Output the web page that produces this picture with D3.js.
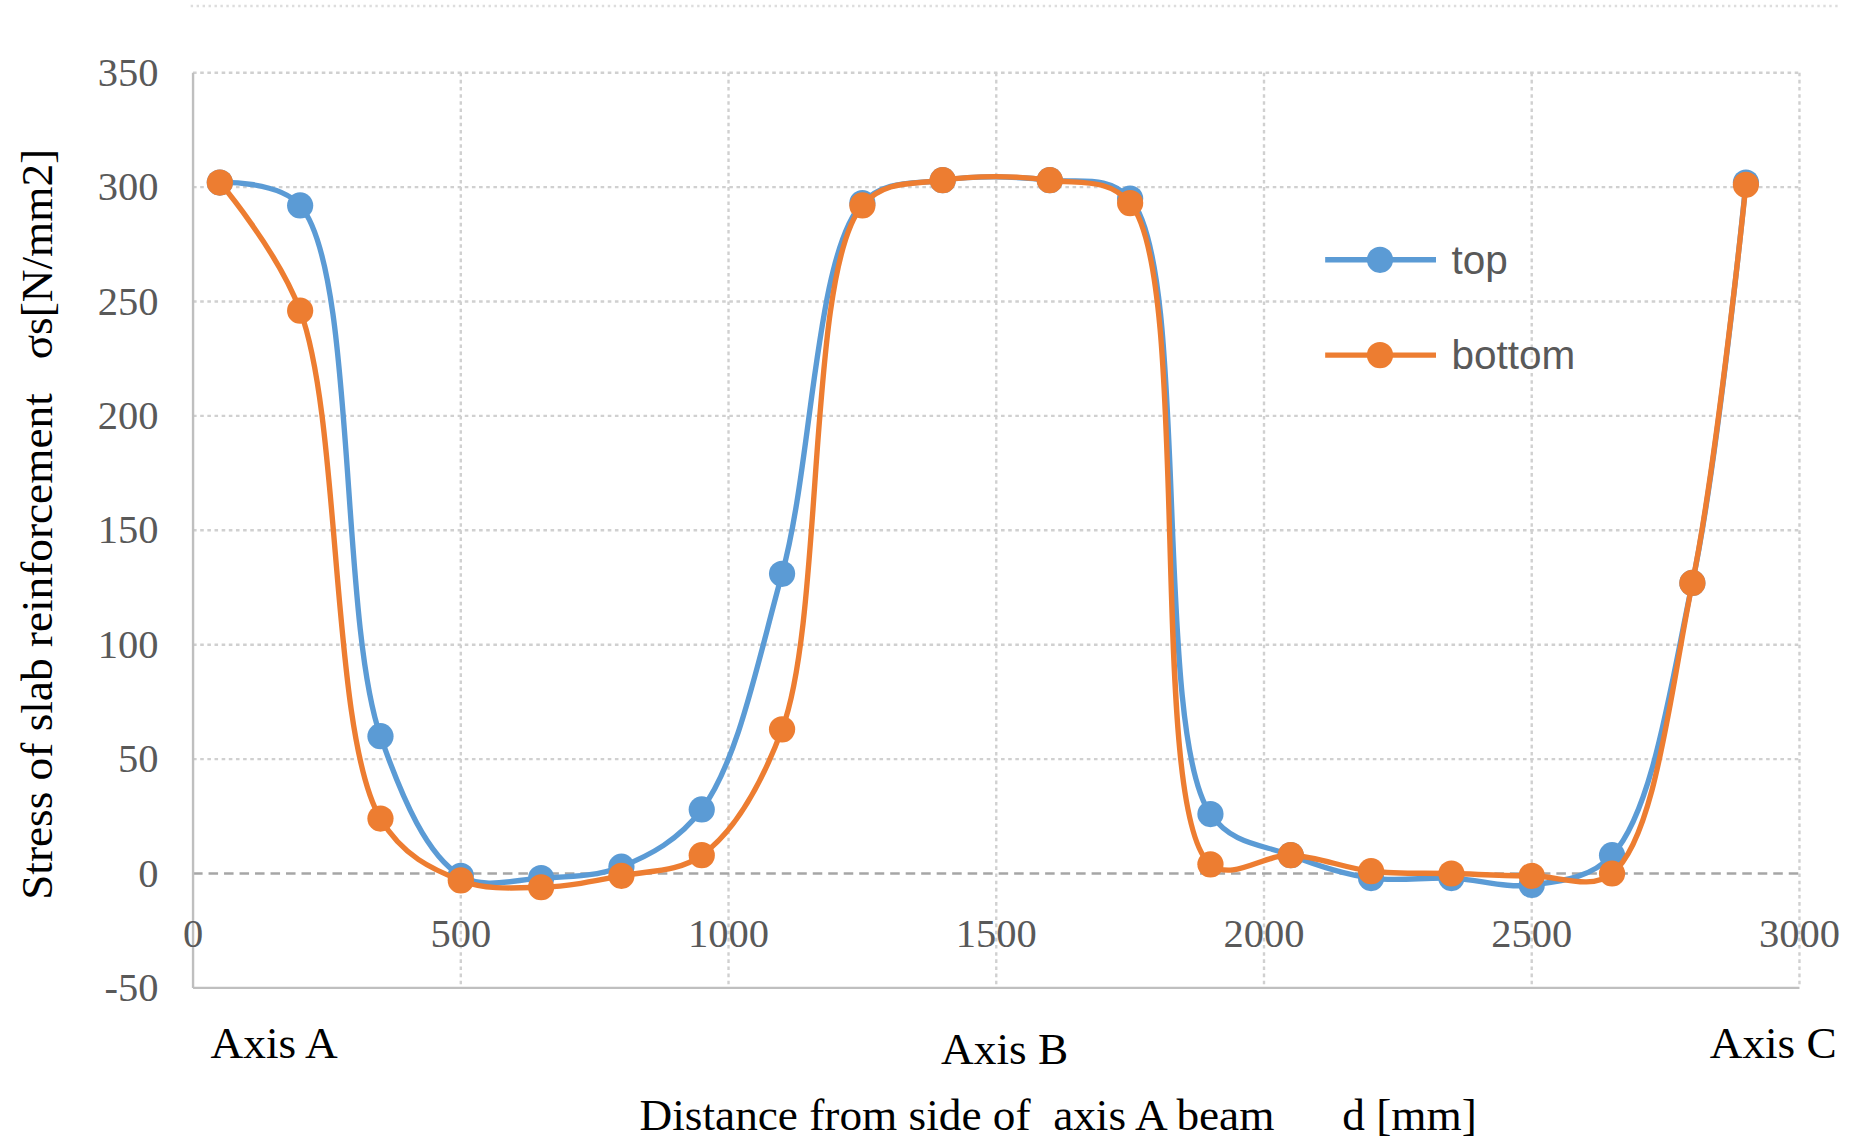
<!DOCTYPE html>
<html><head><meta charset="utf-8">
<script src="https://cdn.jsdelivr.net/npm/d3@7"></script>
<style>body{margin:0;background:#fff}</style>
</head><body><div id="chart"></div>
<script>
const xVals = [50, 200, 350, 500, 650, 800, 950, 1100, 1250, 1400, 1600, 1750, 1900, 2050, 2200, 2350, 2500, 2650, 2800, 2900];
const topVals = [302, 292, 60, -1, -2, 3, 28, 131, 293, 303, 303, 295, 26, 8, -2, -2, -5, 8, 127, 302];
const bottomVals = [302, 246, 24, -3, -6, -1, 8, 63, 292, 303, 303, 293, 4, 8, 1, 0, -1, 0, 127, 301];
const xTicks = [0, 500, 1000, 1500, 2000, 2500, 3000];
const yTicks = [-50, 0, 50, 100, 150, 200, 250, 300, 350];
const series = [
  { name: "top", values: topVals, color: "#5B9BD5" },
  { name: "bottom", values: bottomVals, color: "#ED7D31" }
];

const W = 1859, H = 1147;
const svgRoot = d3.select("#chart").append("svg").attr("width", W).attr("height", H);
const svg = svgRoot.append("g").attr("transform", "scale(1.1917)");
const x = d3.scaleLinear().domain([0, 3000]).range([162, 1510]);
const y = d3.scaleLinear().domain([-50, 350]).range([829, 61]);

// top frame
svg.append("line").attr("x1", 160).attr("x2", 1545).attr("y1", 5).attr("y2", 5)
  .attr("stroke", "#ddd").attr("stroke-width", 2).attr("stroke-dasharray", "2,3");

// grid
svg.append("g").selectAll("line").data(yTicks.filter(d => d !== 0 && d !== -50)).join("line")
  .attr("x1", x(0)).attr("x2", x(3000)).attr("y1", d => y(d)).attr("y2", d => y(d))
  .attr("stroke", "#d0d0d0").attr("stroke-width", 2).attr("stroke-dasharray", "3,3");
svg.append("g").selectAll("line").data(xTicks.slice(1)).join("line")
  .attr("x1", d => x(d)).attr("x2", d => x(d)).attr("y1", y(350)).attr("y2", y(-50))
  .attr("stroke", "#d0d0d0").attr("stroke-width", 2).attr("stroke-dasharray", "3,3");
svg.append("line").attr("x1", x(0)).attr("x2", x(3000)).attr("y1", y(0)).attr("y2", y(0))
  .attr("stroke", "#a6a6a6").attr("stroke-width", 2).attr("stroke-dasharray", "8,5");
svg.append("line").attr("x1", x(0)).attr("x2", x(3000)).attr("y1", y(-50)).attr("y2", y(-50))
  .attr("stroke", "#bfbfbf").attr("stroke-width", 2);
svg.append("line").attr("x1", x(0)).attr("x2", x(0)).attr("y1", y(350)).attr("y2", y(-50))
  .attr("stroke", "#bfbfbf").attr("stroke-width", 2);

// tick labels
const tickFont = "Liberation Serif, Times New Roman, serif";
svg.append("g").selectAll("text").data(yTicks).join("text")
  .attr("x", 133).attr("y", d => y(d) + 11).attr("text-anchor", "end")
  .attr("font-family", tickFont).attr("font-size", 34).attr("fill", "#595959").text(d => d);
svg.append("g").selectAll("text").data(xTicks).join("text")
  .attr("x", d => x(d)).attr("y", 795).attr("text-anchor", "middle")
  .attr("font-family", tickFont).attr("font-size", 34).attr("fill", "#595959").text(d => d);

// lines and markers
const line = d3.line().x((d, i) => x(xVals[i])).y(d => y(d)).curve(d3.curveCatmullRom.alpha(0.5));
series.forEach(s => {
  svg.append("path").attr("d", line(s.values)).attr("fill", "none")
    .attr("stroke", s.color).attr("stroke-width", 4.5);
  svg.append("g").selectAll("circle").data(s.values).join("circle")
    .attr("cx", (d, i) => x(xVals[i])).attr("cy", d => y(d)).attr("r", 11).attr("fill", s.color);
});

// legend
series.forEach((s, i) => {
  const ly = 218 + i * 80;
  svg.append("line").attr("x1", 1112).attr("x2", 1205).attr("y1", ly).attr("y2", ly)
    .attr("stroke", s.color).attr("stroke-width", 4.5);
  svg.append("circle").attr("cx", 1158).attr("cy", ly).attr("r", 11).attr("fill", s.color);
  svg.append("text").attr("x", 1218).attr("y", ly + 12).attr("font-family", "Liberation Sans, Arial, sans-serif")
    .attr("font-size", 34).attr("fill", "#595959").text(s.name);
});

// annotations
const tf = "Liberation Serif, Times New Roman, serif";
[["Axis A", 230, 888], ["Axis B", 843, 893], ["Axis C", 1488, 888]].forEach(([t, tx, ty]) => {
  svg.append("text").attr("x", tx).attr("y", ty).attr("text-anchor", "middle")
    .attr("font-family", tf).attr("font-size", 38).attr("fill", "#000").text(t);
});
svg.append("text").attr("x", 888).attr("y", 948).attr("text-anchor", "middle")
  .attr("font-family", tf).attr("font-size", 38).attr("fill", "#000").attr("xml:space", "preserve")
  .text("Distance from side of  axis A beam      d [mm]");
svg.append("text").attr("transform", "translate(44,440) rotate(-90)").attr("text-anchor", "middle")
  .attr("font-family", tf).attr("font-size", 38).attr("fill", "#000").attr("xml:space", "preserve")
  .text("Stress of slab reinforcement   σs[N/mm2]");
</script></body></html>
